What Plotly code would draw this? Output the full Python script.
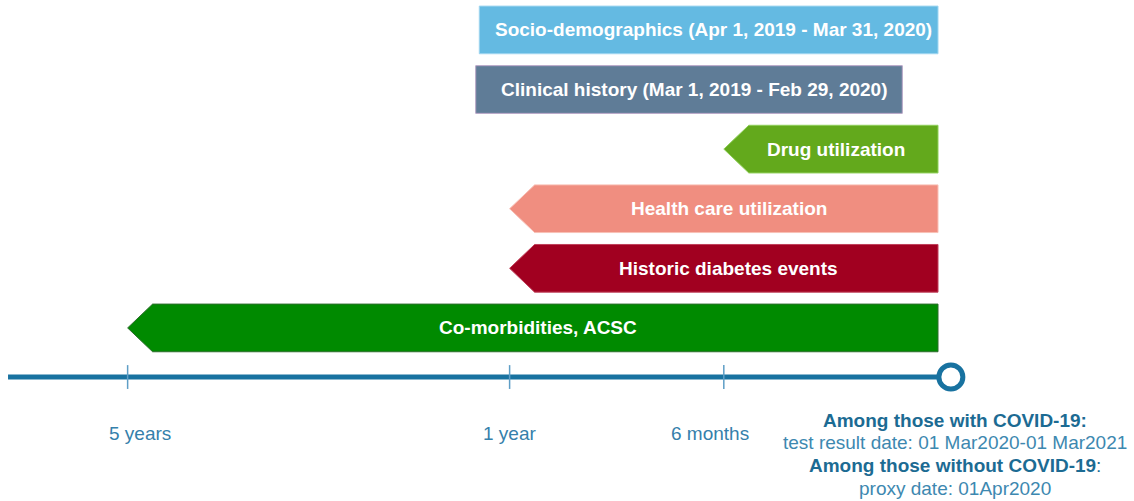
import plotly.graph_objects as go

# ---------------- data (timeline units: months before index date) ----------
categories = [
    "Socio-demographics (Apr 1, 2019 - Mar 31, 2020)",
    "Clinical history (Mar 1, 2019 - Feb 29, 2020)",
    "Drug utilization",
    "Health care utilization",
    "Historic diabetes events",
    "Co-morbidities, ACSC",
]
bar_start = [-12.85, -12.95, -6.0, -12.0, -12.0, -22.7]
bar_end = [0.0, -1.0, 0.0, 0.0, 0.0, 0.0]
bar_kind = ["rect", "rect", "arrow", "arrow", "arrow", "arrow"]

tick_values = [-22.7, -12.0, -6.0]
tick_labels = ["5 years", "1 year", "6 months"]
timeline_start = -26.05
index_pos = 0.36

bottom_lines = [
    ("<b>Among those with COVID-19:</b>", True),
    ("test result date: 01 Mar2020-01 Mar2021", False),
    ("<b>Among those without COVID-19</b>:", True),
    ("proxy date: 01Apr2020", False),
]

# ---------------- style ----------------
fill_colors = ["#64bae2", "#5f7c97", "#63a91c", "#f08e80", "#a10020", "#008a00"]
edge_colors = ["#9fd6f0", "#b7a3c6", "#8fcf5a", "#f8c0b6", "#c0405a", "#2d6d2d"]
FONT = "Liberation Sans, Arial, sans-serif"
LINE_BLUE = "#1872a0"
TICK_BLUE = "#5e9ec6"
LABEL_BLUE = "#3580ab"
BOLD_BLUE = "#1c6b93"
TEXT_BLUE = "#3d88b0"

half_h = 0.40        # bar half height (rows)
tip = 0.70           # arrow tip depth (x units)
timeline_row = 5.824
tick_half = 0.20
tick_label_row = 6.763
bottom_row0 = 6.545
bottom_step = 0.385

fig = go.Figure()

for i, (name, s, e, kind) in enumerate(zip(categories, bar_start, bar_end, bar_kind)):
    yc = i
    if kind == "rect":
        xs = [s, e, e, s, s]
        ys = [yc - half_h, yc - half_h, yc + half_h, yc + half_h, yc - half_h]
    else:
        xs = [e, s + tip, s, s + tip, e, e]
        ys = [yc - half_h, yc - half_h, yc, yc + half_h, yc + half_h, yc - half_h]
    fig.add_trace(go.Scatter(
        x=xs, y=ys, mode="lines", fill="toself",
        fillcolor=fill_colors[i], line=dict(color=edge_colors[i], width=1),
        hoverinfo="skip", showlegend=False,
    ))
    fig.add_annotation(
        x=(s + e) / 2, y=yc, text=f"<b>{name}</b>", showarrow=False,
        xshift=5, font=dict(family=FONT, size=19, color="white"),
        xanchor="center", yanchor="middle",
    )

# timeline
fig.add_trace(go.Scatter(
    x=[timeline_start, index_pos], y=[timeline_row, timeline_row], mode="lines",
    line=dict(color=LINE_BLUE, width=5), hoverinfo="skip", showlegend=False,
))
# ticks
for tv in tick_values:
    fig.add_trace(go.Scatter(
        x=[tv, tv], y=[timeline_row - tick_half, timeline_row + tick_half],
        mode="lines", line=dict(color=TICK_BLUE, width=1.5),
        hoverinfo="skip", showlegend=False,
    ))
label_shift = [12, 0, -14]
for tv, tl, sh in zip(tick_values, tick_labels, label_shift):
    fig.add_annotation(
        x=tv, y=tick_label_row, text=tl, showarrow=False, xshift=sh,
        font=dict(family=FONT, size=19, color=LABEL_BLUE),
        xanchor="center", yanchor="middle",
    )
# index marker
fig.add_trace(go.Scatter(
    x=[index_pos], y=[timeline_row], mode="markers",
    marker=dict(size=24, color="white", line=dict(color=LINE_BLUE, width=5)),
    hoverinfo="skip", showlegend=False,
))
# bottom text
for k, (txt, bold) in enumerate(bottom_lines):
    fig.add_annotation(
        x=index_pos, y=bottom_row0 + k * bottom_step, text=txt, showarrow=False,
        xshift=4,
        font=dict(family=FONT, size=19, color=BOLD_BLUE if bold else TEXT_BLUE),
        xanchor="center", yanchor="middle",
    )

fig.update_xaxes(range=[-26.275, 5.490], visible=False, fixedrange=True)
fig.update_yaxes(range=[7.904, -0.502], visible=False, fixedrange=True)
fig.update_layout(
    width=1134, height=501, margin=dict(l=0, r=0, t=0, b=0),
    paper_bgcolor="white", plot_bgcolor="white",
)
fig.write_html(
    "out.html",
    config={"displayModeBar": False},
    post_script="document.body.style.margin='0';document.body.style.overflow='hidden';",
)
